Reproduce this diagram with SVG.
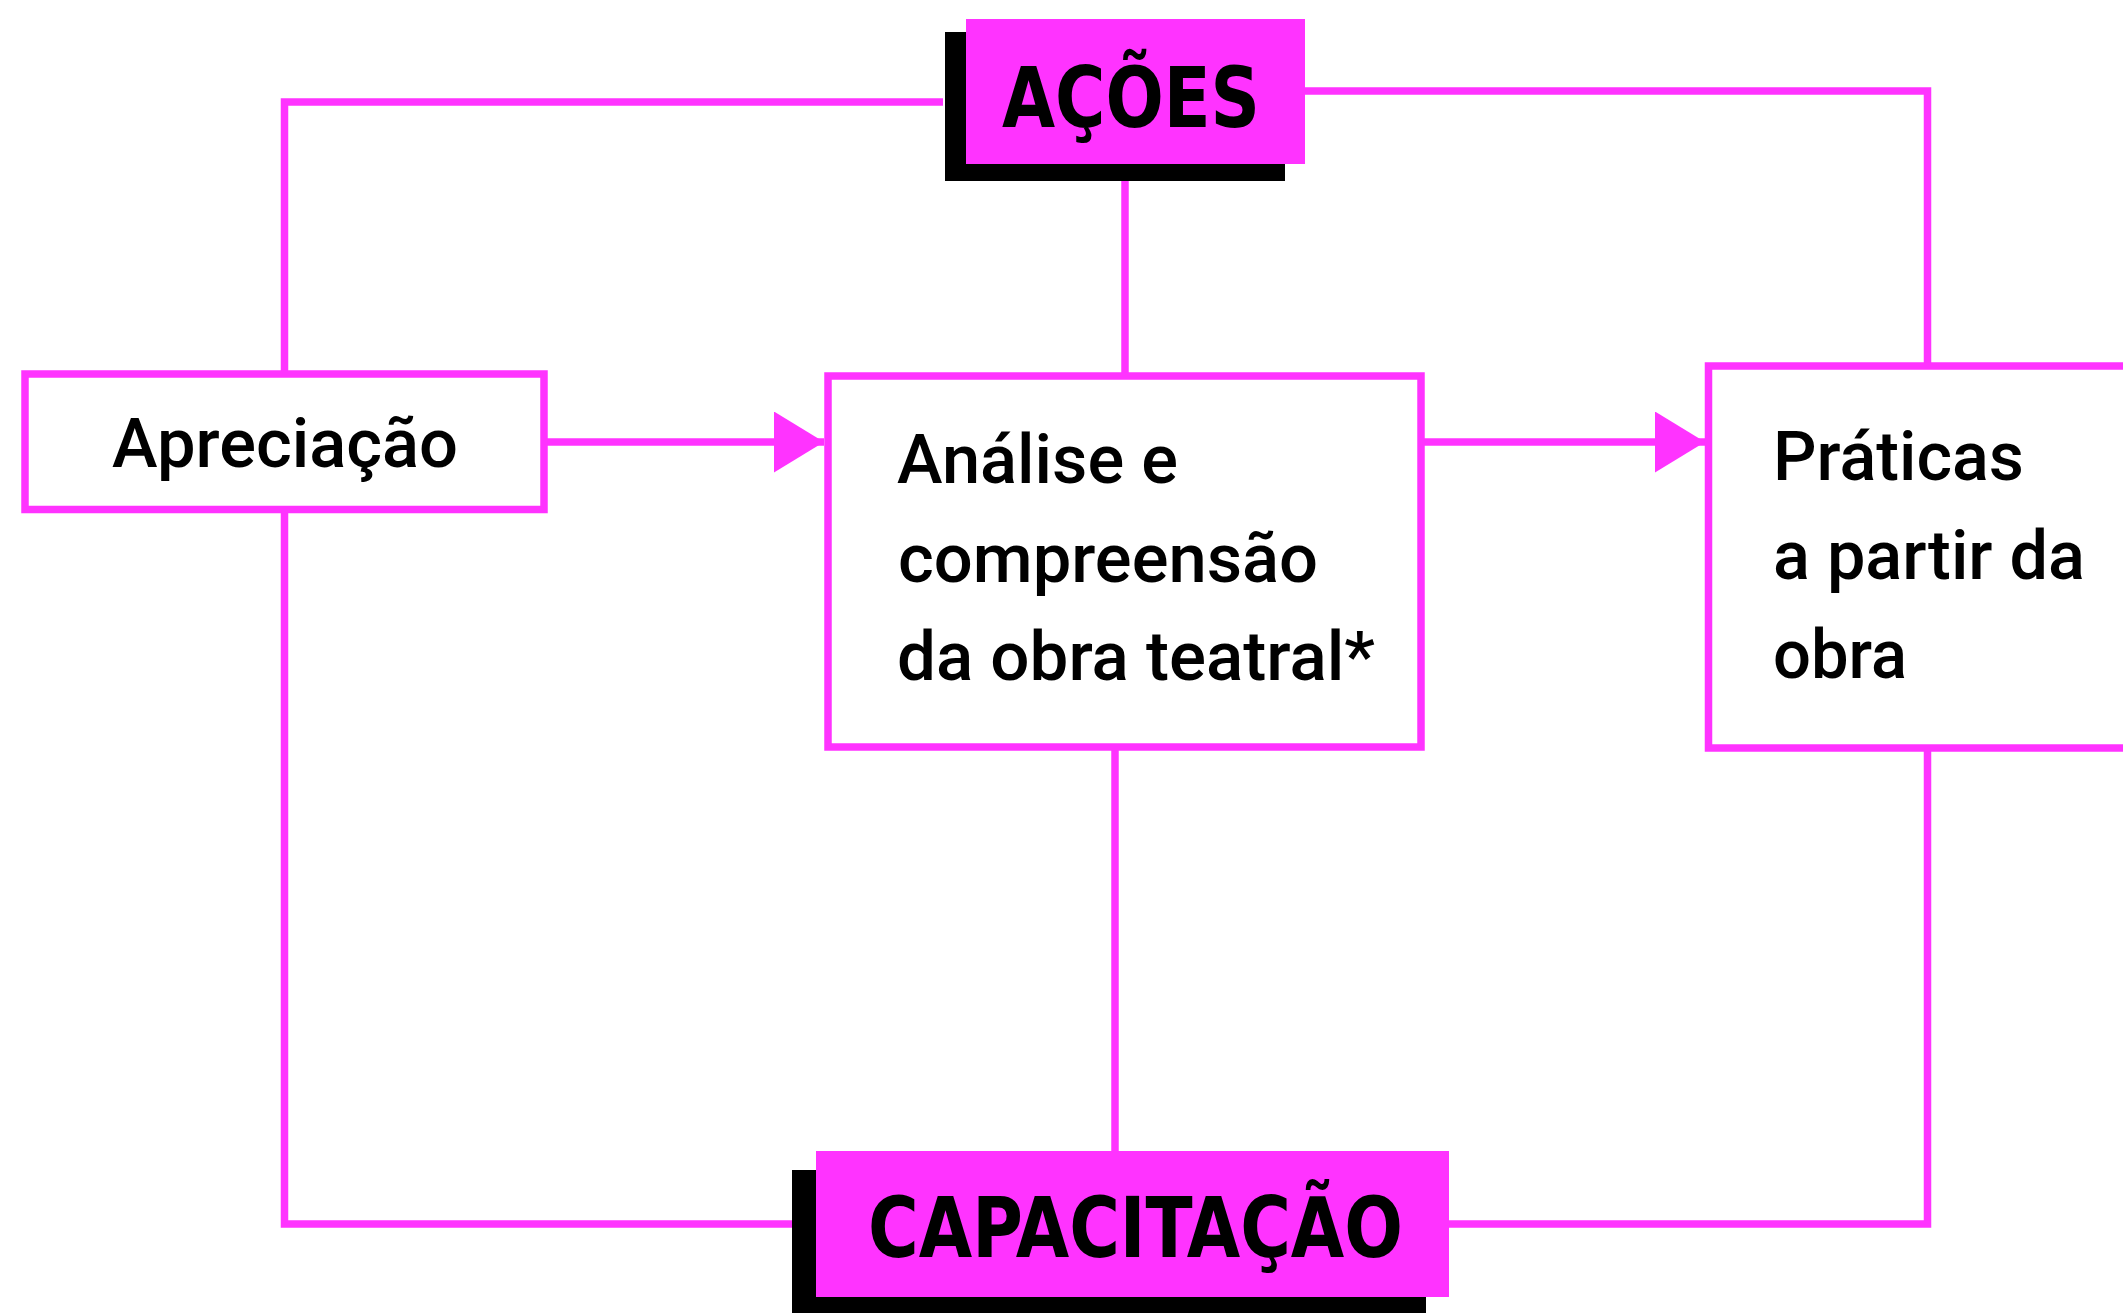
<svg xmlns="http://www.w3.org/2000/svg" width="2123" height="1313" viewBox="0 0 2123 1313">
  <defs>
    <style>
      .ln { stroke: #ff33ff; stroke-width: 7.5; fill: none; }
      .box { fill: #ffffff; stroke: #ff33ff; stroke-width: 7.5; }
      .tag { fill: #ff33ff; }
      .shadow { fill: #000000; }
      .txt { font-family: Roboto, "Noto Sans", "DejaVu Sans", sans-serif; font-weight: 500; font-size: 68px; fill: #000000; }
      .lbl { font-family: "DejaVu Sans Condensed", "DejaVu Sans", sans-serif; font-stretch: condensed; font-weight: bold; font-size: 83px; fill: #000000; }
    </style>
    <marker id="arrow" markerUnits="userSpaceOnUse" markerWidth="50" markerHeight="61" refX="50" refY="30.5" orient="auto" viewBox="0 0 50 61">
      <path d="M0,0 L50,30.5 L0,61 Z" fill="#ff33ff"/>
    </marker>
  </defs>
  <rect width="2123" height="1313" fill="#ffffff"/>

  <g id="connectors">
    <polyline class="ln" points="943,102 284.5,102 284.5,372"/>
    <polyline class="ln" points="1305,91 1927.5,91 1927.5,364"/>
    <line class="ln" x1="1125" y1="181" x2="1125" y2="374"/>
    <polyline class="ln" points="284.5,511 284.5,1224 792,1224"/>
    <polyline class="ln" points="1449,1224 1927.5,1224 1927.5,750"/>
    <line class="ln" x1="1115" y1="749" x2="1115" y2="1151"/>
    <line class="ln" x1="546" y1="442" x2="824" y2="442" marker-end="url(#arrow)"/>
    <line class="ln" x1="1423" y1="442" x2="1705" y2="442" marker-end="url(#arrow)"/>
  </g>

  <g id="acoes">
    <rect class="shadow" x="945" y="32" width="340" height="149"/>
    <rect class="tag" x="966" y="19" width="339" height="145"/>
    <text class="lbl" x="1002" y="127" textLength="258" lengthAdjust="spacingAndGlyphs">AÇÕES</text>
  </g>

  <g id="capacitacao">
    <rect class="shadow" x="792" y="1170" width="634" height="143"/>
    <rect class="tag" x="816" y="1151" width="633" height="146"/>
    <text class="lbl" x="868" y="1257" textLength="535" lengthAdjust="spacingAndGlyphs">CAPACITAÇÃO</text>
  </g>

  <g id="apreciacao">
    <rect class="box" x="25" y="374" width="519" height="135.5"/>
    <text class="txt" x="112" y="467" textLength="346" lengthAdjust="spacingAndGlyphs">Apreciação</text>
  </g>

  <g id="analise">
    <rect class="box" x="828" y="376" width="593" height="371"/>
    <text class="txt" x="897" y="483" textLength="281" lengthAdjust="spacingAndGlyphs">Análise e</text>
    <text class="txt" x="898" y="582" textLength="420" lengthAdjust="spacingAndGlyphs">compreensão</text>
    <text class="txt" x="897" y="680" textLength="478" lengthAdjust="spacingAndGlyphs">da obra teatral*</text>
  </g>

  <g id="praticas">
    <rect class="box" x="1708.5" y="366" width="440" height="382"/>
    <text class="txt" x="1773" y="480" textLength="251" lengthAdjust="spacingAndGlyphs">Práticas</text>
    <text class="txt" x="1773" y="579" textLength="312" lengthAdjust="spacingAndGlyphs">a partir da</text>
    <text class="txt" x="1773" y="678" textLength="134" lengthAdjust="spacingAndGlyphs">obra</text>
  </g>
</svg>
